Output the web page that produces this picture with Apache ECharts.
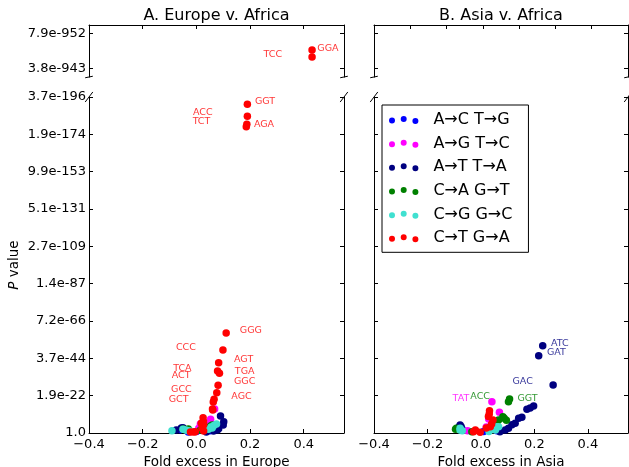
<!DOCTYPE html>
<html><head><meta charset="utf-8">
<script src="https://cdn.jsdelivr.net/npm/echarts@6/dist/echarts.min.js"></script>
<style>html,body{margin:0;padding:0;background:#fff}#c{width:629px;height:467px}</style>
</head><body><div id="c"></div>
<script>
// ---------- data (y values are -ln(P)) ----------
const seriesNames = ['A\u2192C T\u2192G','A\u2192G T\u2192C','A\u2192T T\u2192A','C\u2192A G\u2192T','C\u2192G G\u2192C','C\u2192T G\u2192A'];
const seriesKeys = ['AC','AG','AT','CA','CG','CT'];
const panelTitles = ['A. Europe v. Africa','B. Asia v. Africa'];
const xAxisNames = ['Fold excess in Europe','Fold excess in Asia'];
const breakTicks = [2170, 2190];

// Europe v. Africa
const europeTopCT = [[0.431,2180.6],[0.431,2176.5]];
const europeAC = [[-0.06,4.5],[0.0,2],[0.05,3],[-0.03,1.5]];
const europeAG = [[0.053,18.3],[0.068,32],[0.046,10.7],[0.015,12],[0.009,6.3],[0.04,6],[-0.02,2],[0.03,4]];
const europeAT = [[0.090,22.8],[0.102,15],[0.100,10.7],[0.083,5.8],[0.078,4],[0.064,2.7],[-0.05,7.1],[-0.056,6.7],[-0.075,4],[0.037,1.3]];
const europeCA = [[0.053,9.4],[0.059,10.7],[0.038,6.7],[-0.03,5.4],[-0.049,5.4],[0.015,4]];
const europeCG = [[-0.091,3.1],[-0.05,5],[-0.04,4],[-0.03,3],[-0.02,2.5],[0.045,5],[0.055,8],[0.065,10],[0.075,12],[0.059,6.7]];
const europeCT = [[0.190,440.2],[0.190,424.2],[0.188,413.4],[0.186,410.2],[0.111,133.9],[0.099,111.2],[0.083,94.2],[0.079,83.0],[0.086,80.0],[0.081,63.9],[0.076,54.0],[0.066,45.1],[0.063,41.5],[0.060,32.1],[0.061,30.8],[0.025,20.5],[0.027,15],[0.018,13.0],[0.027,10.7],[0.021,6.3],[0.027,2.7],[-0.004,1.7],[-0.01,1.3],[-0.022,1.3]];
const europeTopLabels = [['GGA',0.490,2181.2,'CT'],['TCC',0.285,2177.7,'CT']];
const europeLabels = [['GGT',0.256,443.7,'CT'],['AGA',0.252,413.4,'CT'],['ACC',0.024,428.6,'CT'],['TCT',0.019,416.9,'CT'],['GGG',0.203,137.9,'CT'],['CCC',-0.039,114.8,'CT'],['AGT',0.176,97.8,'CT'],['TCA',-0.052,85.7,'CT'],['ACT',-0.057,76.3,'CT'],['TGA',0.180,82.1,'CT'],['GGC',0.180,68.7,'CT'],['GCC',-0.056,57.6,'CT'],['GCT',-0.066,45.1,'CT'],['AGC',0.168,48.6,'CT']];

// Asia v. Africa
const asiaAC = [[-0.07,5],[0.01,2],[0.06,3]];
const asiaAG = [[0.041,41.9],[0.069,27.7],[0.029,18.8],[0.041,15.1],[0.02,8],[-0.05,3]];
const asiaAT = [[0.231,116.9],[0.216,103.5],[0.270,64.3],[0.197,36.2],[0.184,33.5],[0.172,31.7],[0.153,21.0],[0.141,19.7],[0.128,13.0],[0.116,11.1],[0.103,6.3],[0.091,4.0],[0.071,1.7],[-0.074,8.4],[-0.084,7.4],[-0.078,10.7]];
const asiaCA = [[0.107,45.5],[0.103,41.9],[0.082,21.8],[0.087,19.7],[0.095,17.0],[0.066,17.4],[0.06,10],[-0.092,6.3],[-0.095,5],[-0.034,1.7]];
const asiaCG = [[-0.078,4.0],[-0.078,6.3],[-0.07,3],[0.060,8.4],[0.066,8.4],[0.041,5.4],[0.054,4.0],[0.03,2]];
const asiaCT = [[0.032,29.9],[0.031,25.4],[0.028,22],[0.045,17.4],[0.04,12],[0.035,8.4],[0.020,6.7],[-0.021,4.0],[-0.003,0.9],[-0.028,1.7]];
const asiaLabels = [['ATC',0.295,120.1,'AT'],['GAT',0.282,107.5,'AT'],['GAC',0.156,68.7,'AT'],['TAT',-0.075,45.5,'AG'],['ACC',-0.003,48.6,'CA'],['GGT',0.174,45.5,'CA']];

const europeSets = {AC:europeAC, AG:europeAG, AT:europeAT, CA:europeCA, CG:europeCG, CT:europeCT};
const asiaSets = {AC:asiaAC, AG:asiaAG, AT:asiaAT, CA:asiaCA, CG:asiaCG, CT:asiaCT};

// ---------- styling / layout ----------
const FONT = 'DejaVu Sans';
const palette = {AC:'#0000ff', AG:'#ff00ff', AT:'#000080', CA:'#008000', CG:'#40e0d0', CT:'#ff0000'};
const L = {lx:89, rx:374, lw:255, rw:254, tt:25, th:52, mt:97, mh:336};

function pFmt(v){
  if (Math.abs(v) < 1e-9) return '1.0';
  const l = -v / Math.LN10; let e = Math.floor(l); let s = Math.pow(10, l - e).toFixed(1);
  if (s === '10.0') { s = '1.0'; e += 1; }
  return s + 'e' + e;
}
function xFmt(v){ const s = Math.abs(v).toFixed(1); return v < -1e-9 ? '\u2212' + s : s; }

const axLine = {show:true, onZero:false, lineStyle:{color:'#000', width:1}};
const axTick = {show:true, inside:true, length:4, lineStyle:{color:'#000', width:1}};

const grids = [
  {left:L.lx, top:L.tt, width:L.lw, height:L.th, outerBoundsMode:'none', containLabel:false},
  {left:L.lx, top:L.mt, width:L.lw, height:L.mh, outerBoundsMode:'none', containLabel:false},
  {left:L.rx, top:L.tt, width:L.rw, height:L.th, outerBoundsMode:'none', containLabel:false},
  {left:L.rx, top:L.mt, width:L.rw, height:L.mh, outerBoundsMode:'none', containLabel:false}
];

function topX(grid, min, max, interval){
  return {type:'value', gridIndex:grid, position:'top', min, max, interval,
    axisLine:axLine, axisTick:axTick, axisLabel:{show:false}, splitLine:{show:false}};
}
function mainX(grid, name){
  return {type:'value', gridIndex:grid, position:'bottom', min:-0.4, max:0.55, interval:0.2,
    axisLine:axLine, axisTick:axTick, splitLine:{show:false},
    axisLabel:{show:true, formatter:xFmt, fontFamily:FONT, fontSize:13, color:'#000', margin:5, showMaxLabel:false},
    name, nameLocation:'middle', nameGap:15, nameTextStyle:{fontFamily:FONT, fontSize:13.5, color:'#000'}};
}
function yTop(grid, pos, labels){
  return {type:'value', gridIndex:grid, position:pos, min:2165, max:2195,
    axisLine:axLine, axisTick:Object.assign({}, axTick, {customValues:breakTicks}),
    axisLabel:{show:labels, customValues:breakTicks, formatter:pFmt, fontFamily:FONT, fontSize:13, color:'#000', margin:3},
    splitLine:{show:false}};
}
function yMain(grid, pos, labels, withName){
  const a = {type:'value', gridIndex:grid, position:pos, min:0, max:450, interval:50,
    axisLine:axLine, axisTick:axTick, splitLine:{show:false},
    axisLabel:{show:labels, formatter:pFmt, fontFamily:FONT, fontSize:13, color:'#000', margin:3}};
  if (withName) {
    a.name = '{i|P} value'; a.nameLocation = 'middle'; a.nameGap = 68; a.nameRotate = 90;
    a.nameTextStyle = {fontFamily:FONT, fontSize:13.5, color:'#000', rich:{i:{fontFamily:FONT, fontStyle:'italic', fontSize:13.5, color:'#000'}}};
  }
  return a;
}

const xAxes = [topX(0, -0.4, 0.55, 0.2), mainX(1, xAxisNames[0]), topX(2, 0, 7, 1), mainX(3, xAxisNames[1])];
const yAxes = [yTop(0,'left',true), yTop(0,'right',false), yMain(1,'left',true,true), yMain(1,'right',false,false),
               yTop(2,'left',false), yTop(2,'right',false), yMain(3,'left',false,false), yMain(3,'right',false,false)];

const series = [];
function addScatter(name, key, data, xi, yi){
  series.push({type:'scatter', name, xAxisIndex:xi, yAxisIndex:yi, data, symbolSize:7.5, silent:true,
    itemStyle:{color:palette[key], opacity:1, borderWidth:0}});
}
seriesKeys.forEach((k, i) => {
  addScatter(seriesNames[i], k, europeSets[k], 1, 2);
  addScatter(seriesNames[i], k, asiaSets[k], 3, 6);
});
addScatter(seriesNames[5], 'CT', europeTopCT, 0, 0);

function addLabels(arr, xi, yi){
  series.push({type:'scatter', xAxisIndex:xi, yAxisIndex:yi, symbolSize:2, silent:true, z:10, clip:false,
    itemStyle:{color:'rgba(0,0,0,0)', borderWidth:0},
    data: arr.map(a => ({name:a[0], value:[a[1], a[2]], label:{color:palette[a[3]]}})),
    label:{show:true, position:'inside', formatter:'{b}', fontFamily:FONT, fontSize:9.5, align:'center', verticalAlign:'middle'}});
}
addLabels(europeTopLabels, 0, 0);
addLabels(europeLabels, 1, 2);
addLabels(asiaLabels, 3, 6);

// legend icon: three dots
const dotsPath = 'path://M0,4.5A3,3 0 1,1 6,4.5A3,3 0 1,1 0,4.5Z M11.7,3A3,3 0 1,1 17.7,3A3,3 0 1,1 11.7,3Z M23.4,5A3,3 0 1,1 29.4,5A3,3 0 1,1 23.4,5Z';

// broken-axis marks
const d = 0.015;
function brk(x, y, w, h){
  return {type:'line', silent:true, z:100, shape:{x1:x - d*w, y1:y + d*h, x2:x + d*w, y2:y - d*h}, style:{stroke:'#000', lineWidth:1}};
}
const graphics = [];
[[L.lx, L.lw], [L.rx, L.rw]].forEach(([x0, w]) => {
  graphics.push(brk(x0, L.tt + L.th, w, L.th), brk(x0 + w, L.tt + L.th, w, L.th));
  graphics.push(brk(x0, L.mt, w, L.mh), brk(x0 + w, L.mt, w, L.mh));
});

const chart = echarts.init(document.getElementById('c'));
chart.setOption({
  animation:false,
  backgroundColor:'#fff',
  title:[
    {text:panelTitles[0], left:L.lx + L.lw/2, top:8, textAlign:'center', padding:0, textStyle:{fontFamily:FONT, fontSize:16, fontWeight:'normal', color:'#000'}},
    {text:panelTitles[1], left:L.rx + L.rw/2, top:8, textAlign:'center', padding:0, textStyle:{fontFamily:FONT, fontSize:16, fontWeight:'normal', color:'#000'}}
  ],
  legend:{data:seriesNames, orient:'vertical', left:382, top:105, padding:[7,16,6,7], itemGap:7.66,
    itemWidth:29.4, itemHeight:8, icon:dotsPath, borderColor:'#000', borderWidth:1, borderRadius:0,
    backgroundColor:'#fff', selectedMode:false, z:20,
    textStyle:{fontFamily:FONT, fontSize:16, color:'#000', lineHeight:16, padding:[0,0,0,10]}},
  grid:grids,
  xAxis:xAxes,
  yAxis:yAxes,
  series,
  graphic:graphics
});
</script></body></html>
